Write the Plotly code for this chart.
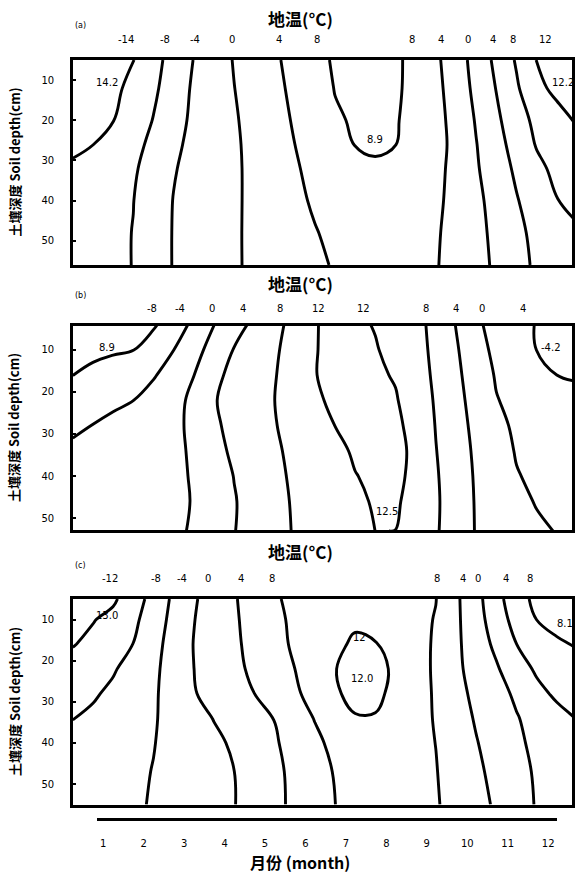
import plotly.graph_objects as go

# ---------------- data ----------------
MONTHS = [0.25, 0.75, 1.25, 1.75, 2.25, 2.75, 3.25, 3.75, 4.25, 4.75, 5.25, 5.75, 6.25,
          6.75, 7.25, 7.75, 8.25, 8.75, 9.25, 9.75, 10.25, 10.75, 11.25, 11.75, 12.25, 12.75]
MONTH_TICKS = [1, 2, 3, 4, 5, 6, 7, 8, 9, 10, 11, 12]
DEPTH_TICKS = [10, 20, 30, 40, 50]

DEPTH_A = [5, 12, 20, 26, 32, 40, 48, 56]
T_A = [
    [-14.2, -13.5, -12.8, -12.1, -9.3, -6.5, -3.9, -1.8, 0.2, 1.8, 3.4, 5.3, 7.2, 8.3, 8.7, 8.7, 8.3, 7.45, 4.7, 1.8, -1.4, -4.9, -8.4, -12.1, -12.5, -12.4],
    [-13.8, -13.16, -12.5, -11.4, -8.7, -6.0, -3.5, -1.8, -0.05, 1.5, 3.1, 4.8, 6.6, 8.1, 8.5, 8.68, 8.29, 7.4, 5.0, 2.2, -0.95, -4.14, -7.5, -11.07, -12.9, -12.5],
    [-13.2, -12.64, -12.09, -10.1, -7.85, -5.35, -3.3, -1.84, -0.36, 1.19, 2.75, 4.33, 6.0, 7.67, 8.28, 8.56, 8.2, 7.1, 5.17, 2.77, -0.29, -3.24, -6.4, -8.9, -10.65, -12.4],
    [-12.4, -12.04, -10.6, -9.03, -7.17, -4.73, -3.09, -1.79, -0.49, 0.95, 2.47, 3.98, 5.5, 7.03, 8.08, 8.3, 8.05, 6.72, 5.12, 3.1, 0.12, -2.63, -5.5, -8.26, -9.73, -11.2],
    [-11.7, -10.6, -9.52, -8.44, -6.59, -4.24, -2.92, -1.72, -0.52, 0.81, 2.25, 3.68, 4.81, 5.84, 6.87, 7.7, 6.71, 5.71, 4.72, 3.21, 0.4, -2.15, -4.64, -7.11, -8.9, -10.3],
    [-11.0, -10.02, -9.04, -8.06, -5.96, -3.89, -2.75, -1.64, -0.48, 0.74, 2.01, 3.29, 4.4, 5.3, 6.2, 7.11, 6.38, 5.47, 4.55, 3.11, 0.89, -1.41, -3.76, -5.84, -7.88, -9.2],
    [-10.6, -9.72, -8.84, -7.91, -5.78, -3.82, -2.68, -1.55, -0.41, 0.67, 1.73, 2.78, 3.83, 4.7, 5.53, 6.35, 6.01, 5.17, 4.34, 2.91, 1.09, -0.92, -3.22, -4.84, -6.12, -7.4],
    [-10.4, -9.59, -8.78, -7.91, -5.79, -3.82, -2.67, -1.53, -0.39, 0.61, 1.54, 2.46, 3.39, 4.26, 5.04, 5.81, 5.8, 5.0, 4.21, 2.8, 1.19, -0.59, -2.86, -4.56, -5.68, -6.8],
]

DEPTH_B = [4, 10, 16, 22, 28, 34, 40, 46, 53]
T_B = [
    [-8.9, -8.8, -8.7, -8.6, -8.5, -6.0, -3.19, -0.06, 2.45, 4.81, 6.94, 9.18, 11.8, 12.9, 12.8, 11.75, 10.36, 8.97, 7.05, 3.88, 0.75, -1.5, -3.49, -4.07, -4.16, -4.25],
    [-9.2, -8.9, -8.5, -8.1, -6.13, -4.04, -1.35, 1.43, 4.17, 5.83, 7.5, 9.47, 11.85, 12.8, 12.9, 12.3, 10.64, 9.12, 7.26, 4.4, 1.47, -0.92, -2.75, -4.04, -4.17, -4.3],
    [-8.05, -7.12, -6.19, -5.25, -4.32, -2.41, -0.05, 3.08, 4.99, 6.39, 7.8, 9.67, 11.9, 12.8, 12.9, 12.6, 11.7, 9.5, 7.42, 4.79, 2.08, -0.31, -1.58, -2.85, -4.01, -4.1],
    [-6.2, -5.48, -4.76, -4.04, -2.6, -1.11, 0.78, 3.76, 5.26, 6.63, 7.98, 9.63, 11.5, 12.6, 12.9, 12.75, 12.3, 10.02, 7.65, 5.11, 2.62, 0.15, -0.88, -1.82, -2.76, -3.7],
    [-4.4, -3.95, -3.1, -2.28, -1.46, -0.64, 0.61, 3.39, 5.07, 6.44, 7.81, 9.22, 10.64, 12.02, 12.6, 12.8, 12.6, 11.0, 7.85, 5.41, 3.06, 0.81, -0.53, -1.35, -2.18, -3.0],
    [-3.6, -2.99, -2.37, -1.76, -1.14, -0.53, 0.34, 2.78, 4.7, 6.1, 7.5, 8.78, 9.99, 11.2, 12.4, 12.7, 12.5, 11.6, 8.11, 5.69, 3.4, 1.4, -0.22, -0.95, -1.67, -2.4],
    [-3.2, -2.66, -2.12, -1.57, -1.03, -0.49, 0.2, 2.16, 4.09, 5.66, 7.22, 8.55, 9.64, 10.73, 11.9, 12.55, 12.45, 11.5, 8.36, 5.9, 3.62, 1.9, 0.17, -0.56, -1.18, -1.8],
    [-3.0, -2.49, -1.99, -1.48, -0.98, -0.47, 0.11, 1.94, 3.78, 5.4, 6.98, 8.36, 9.37, 10.38, 11.39, 12.3, 12.25, 11.3, 8.49, 6.05, 3.74, 2.3, 0.86, -0.2, -0.7, -1.2],
    [-2.9, -2.41, -1.91, -1.42, -0.92, -0.43, 0.25, 2.07, 3.89, 5.41, 6.92, 8.23, 9.06, 9.89, 10.72, 12.02, 11.99, 9.81, 8.37, 6.1, 3.8, 2.72, 1.63, 0.54, -0.13, -0.4],
]

DEPTH_C = [5, 10, 16, 22, 28, 34, 40, 47, 55]
T_C = [
    [-13.0, -12.8, -12.6, -9.82, -6.62, -3.3, -0.41, 1.7, 3.68, 5.66, 7.64, 8.72, 9.59, 10.47, 11.34, 10.93, 9.98, 9.03, 8.08, 4.65, 1.27, -2.7, -6.33, -9.0, -9.2, -9.2],
    [-12.6, -12.2, -10.95, -8.84, -6.0, -2.89, -0.11, 1.73, 3.53, 5.38, 7.25, 8.6, 9.62, 10.63, 11.65, 11.19, 10.1, 9.02, 7.81, 4.69, 1.56, -2.0, -5.43, -8.03, -8.8, -9.0],
    [-12.2, -11.07, -9.52, -7.95, -5.24, -2.54, 0.1, 1.74, 3.38, 5.09, 6.84, 8.52, 10.03, 11.55, 12.32, 12.14, 10.9, 9.32, 7.55, 4.73, 2.0, -0.83, -3.98, -5.82, -7.64, -8.2],
    [-10.6, -9.47, -8.34, -6.65, -4.73, -2.47, -0.02, 1.56, 3.13, 4.72, 6.36, 7.98, 9.98, 11.96, 12.46, 12.45, 11.75, 9.45, 7.47, 4.8, 2.53, 0.42, -2.29, -4.52, -5.81, -7.1],
    [-9.2, -8.4, -7.3, -5.89, -4.48, -2.5, -0.23, 1.24, 2.62, 3.99, 5.68, 7.36, 9.41, 11.85, 12.33, 12.35, 11.6, 9.41, 7.61, 5.2, 3.11, 1.32, -0.63, -3.04, -4.6, -5.6],
    [-8.05, -7.38, -6.35, -5.32, -4.29, -2.9, -1.37, 0.13, 1.44, 2.75, 4.08, 6.14, 8.16, 10.6, 11.92, 11.9, 10.8, 9.02, 7.79, 5.68, 3.66, 1.95, 0.24, -1.34, -2.91, -4.15],
    [-7.3, -6.5, -5.71, -4.91, -4.11, -3.02, -1.89, -0.75, 0.52, 2.06, 3.6, 5.36, 7.19, 8.95, 10.65, 11.0, 9.99, 8.98, 7.96, 6.08, 4.19, 2.41, 0.64, -0.8, -2.05, -3.3],
    [-6.6, -5.93, -5.27, -4.6, -3.9, -2.93, -1.95, -0.98, -0.02, 1.6, 3.2, 4.85, 6.54, 8.23, 9.86, 10.74, 9.87, 9.0, 8.14, 6.51, 4.74, 2.95, 1.13, -0.41, -1.51, -2.6],
    [-6.2, -5.61, -5.02, -4.44, -3.76, -2.85, -1.94, -1.02, -0.11, 1.45, 3.11, 4.74, 6.35, 7.97, 9.36, 10.52, 9.77, 9.02, 8.27, 6.92, 5.24, 3.49, 1.5, -0.24, -1.22, -2.2],
]

# isotherm labels written above each panel (text, month position)
TOP_A = [("-14", 1.57), ("-8", 2.53), ("-4", 3.29), ("0", 4.19), ("4", 5.36), ("8", 6.3),
         ("8", 8.65), ("4", 9.38), ("0", 10.04), ("4", 10.67), ("8", 11.16), ("12", 11.96)]
TOP_B = [("-8", 2.21), ("-4", 2.9), ("0", 3.7), ("4", 4.47), ("8", 5.38), ("12", 6.35),
         ("12", 7.45), ("8", 9.01), ("4", 9.75), ("0", 10.39), ("4", 11.4)]
TOP_C = [("-12", 1.16), ("-8", 2.31), ("-4", 2.95), ("0", 3.59), ("4", 4.42), ("8", 5.2),
         ("8", 9.29), ("4", 9.93), ("0", 10.3), ("4", 10.99), ("8", 11.59)]

# values written inside the panels (text, month, depth)
IN_A = [("14.2", 1.11, 10.6), ("12.2", 12.4, 10.6), ("8.9", 7.73, 24.7)]
IN_B = [("8.9", 1.11, 9.6), ("-4.2", 12.1, 9.6), ("12.5", 8.05, 48.4)]
IN_C = [("13.0", 1.11, 9.0), ("8.1", 12.45, 11.0), ("12", 7.35, 14.3), ("12.0", 7.42, 24.4)]

PANEL_LEVELS = [(-12, 8), (-8, 12), (-12, 12)]

# ---------------- layout geometry ----------------
H = 875.0
def py(p):
    return 1 - p / H

X_RANGE = [0.255, 12.625]
DOMS = [[py(265), py(60)], [py(530), py(326)], [py(805), py(599)]]
YR = [[56, 5], [52.8, 4.4], [55.1, 5]]
TITLE_Y = [py(18), py(283), py(551)]
TOPLAB_Y = [py(40), py(308), py(578)]
LETTER_Y = [py(26), py(295), py(565)]
LETTERS = ["(a)", "(b)", "(c)"]

fig = go.Figure()
datasets = [(DEPTH_A, T_A), (DEPTH_B, T_B), (DEPTH_C, T_C)]
for i, (dep, tz) in enumerate(datasets):
    s = "" if i == 0 else str(i + 1)
    lo, hi = PANEL_LEVELS[i]
    fig.add_trace(go.Contour(
        x=MONTHS, y=dep, z=tz,
        contours=dict(start=lo, end=hi, size=4, coloring="none", showlabels=False),
        line=dict(color="black", width=2.9, smoothing=1.1),
        showscale=False, hoverinfo="skip",
        xaxis="x" + s, yaxis="y" + s,
    ))

# month axis carrier (invisible markers)
fig.add_trace(go.Scatter(x=MONTH_TICKS, y=[DEPTH_C[0]] * len(MONTH_TICKS), mode="markers",
                         marker=dict(opacity=0), hoverinfo="skip", showlegend=False,
                         xaxis="x4", yaxis="y3"))

box = dict(showline=True, mirror=True, linecolor="black", linewidth=2.7,
           showgrid=False, zeroline=False)
lay = {}
for i in range(3):
    s = "" if i == 0 else str(i + 1)
    lay["xaxis" + s] = dict(box, domain=[0, 1], range=X_RANGE, showticklabels=False,
                            ticks="", anchor="y" + s)
    lay["yaxis" + s] = dict(box, domain=DOMS[i], range=YR[i], tickvals=DEPTH_TICKS,
                            ticks="inside", ticklen=3, tickwidth=1.5, tickcolor="black",
                            ticklabelstandoff=14,
                            tickfont=dict(family="DejaVu Sans", size=10, color="black"),
                            anchor="x" + s)
lay["xaxis4"] = dict(domain=[0.048, 0.970], range=[0.844, 12.22], anchor="free",
                     position=py(819), showline=True, linecolor="black", linewidth=3,
                     showgrid=False, zeroline=False, tickvals=MONTH_TICKS,
                     ticks="outside", ticklen=14, tickcolor="rgba(0,0,0,0)",
                     tickfont=dict(family="DejaVu Sans", size=10, color="black"))

def A(**k):
    k.setdefault("showarrow", False)
    k.setdefault("yanchor", "middle")
    k.setdefault("xanchor", "center")
    return k

ann = []
for i in range(3):
    s = "" if i == 0 else str(i + 1)
    ann.append(A(text="<b>地温(°C)</b>", x=0.455, y=TITLE_Y[i], xref="paper", yref="paper",
                 font=dict(family="Noto Sans CJK SC", size=17, color="black")))
    ann.append(A(text=LETTERS[i], x=0.0, y=LETTER_Y[i], xref="paper", yref="paper",
                 xanchor="left", font=dict(family="DejaVu Sans", size=8, color="black")))
    ann.append(A(text="<b>土壤深度 Soil depth(cm)</b>", x=(14 - 73) / 499.0,
                 y=(DOMS[i][0] + DOMS[i][1]) / 2,
                 xref="paper", yref="paper", textangle=-90,
                 font=dict(family="Noto Sans CJK SC", size=13, color="black")))
    for txt, m in [TOP_A, TOP_B, TOP_C][i]:
        ann.append(A(text=txt, x=m, y=TOPLAB_Y[i], xref="x" + s, yref="paper",
                     font=dict(family="DejaVu Sans", size=10, color="black")))
    for txt, m, d in [IN_A, IN_B, IN_C][i]:
        ann.append(A(text=txt, x=m, y=d, xref="x" + s, yref="y" + s,
                     font=dict(family="DejaVu Sans", size=10, color="black")))
ann.append(A(text="<b>月份 (month)</b>", x=0.455, y=py(862), xref="paper", yref="paper",
             font=dict(family="Noto Sans CJK SC", size=16, color="black")))

fig.update_layout(width=580, height=875, margin=dict(l=73, r=8, t=0, b=0),
                  paper_bgcolor="white", plot_bgcolor="rgba(0,0,0,0)", showlegend=False,
                  annotations=ann, **lay)

fig.write_html("out.html", config={"displayModeBar": False},
               post_script="document.body.style.margin='0px';")
